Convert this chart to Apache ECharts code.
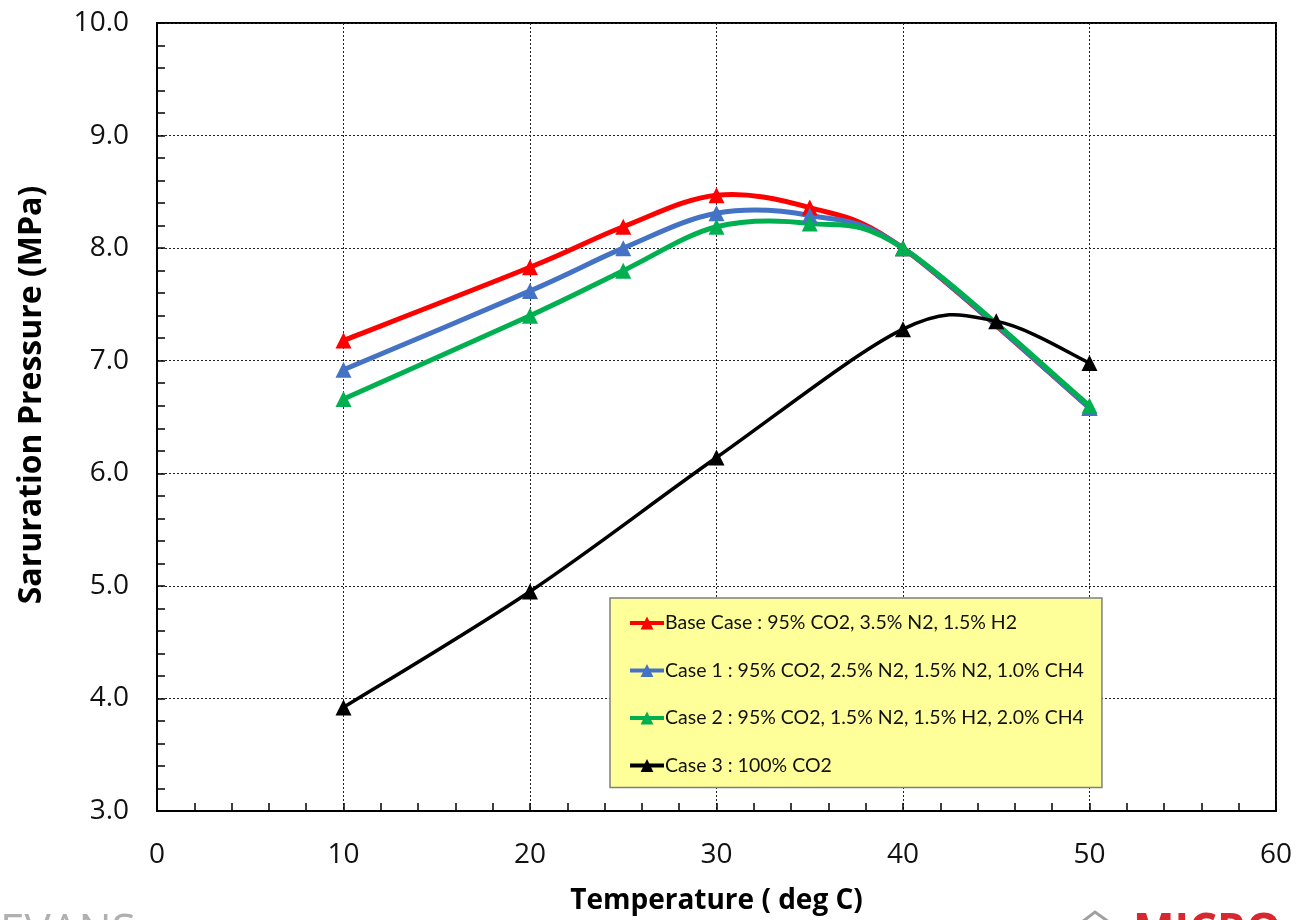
<!DOCTYPE html>
<html>
<head>
<meta charset="utf-8">
<script src="https://cdn.jsdelivr.net/npm/echarts@6/dist/echarts.min.js"></script>
<style>
  html, body { margin: 0; padding: 0; background: #fff; }
  #chart { width: 1298px; height: 920px; }
</style>
</head>
<body>
<div id="chart"></div>
<script>
// Saturation pressure of CO2-rich mixtures versus temperature
const baseTemps = [10, 20, 25, 30, 35, 40, 50];
const baseCase = [7.18, 7.83, 8.19, 8.47, 8.36, 8.00, 6.58];
const case1 = [6.92, 7.62, 8.00, 8.31, 8.29, 8.00, 6.58];
const case2 = [6.66, 7.40, 7.80, 8.19, 8.22, 8.00, 6.60];
const case3Temps = [10, 20, 30, 40, 45, 50];
const case3 = [3.92, 4.95, 6.14, 7.28, 7.35, 6.98];

const seriesNames = [
  'Base Case : 95% CO2, 3.5% N2, 1.5% H2',
  'Case 1 : 95% CO2, 2.5% N2, 1.5% N2, 1.0% CH4',
  'Case 2 : 95% CO2, 1.5% N2, 1.5% H2, 2.0% CH4',
  'Case 3 : 100% CO2'
];
const seriesColors = ['#ff0000', '#4472c4', '#00b050', '#000000'];
const lineWidths = [5, 5, 5, 3.5];

const xTitle = 'Temperature ( deg C)';
const yTitle = 'Saruration Pressure (MPa)';

function pairs(xs, ys) { return xs.map((x, i) => [x, ys[i]]); }

const seriesData = [
  pairs(baseTemps, baseCase),
  pairs(baseTemps, case1),
  pairs(baseTemps, case2),
  pairs(case3Temps, case3)
];

const FONT = '"Open Sans", "Noto Sans", sans-serif';
const LEGEND_FONT = 'Lato, "Open Sans", sans-serif';

// Smoothed curve through the points: each segment is a cubic Bezier whose
// control points follow the Catmull-Rom tangents (1/6 of the neighbour chord).
function curveSeries(k) {
  const pts = seriesData[k];
  return {
    name: seriesNames[k],
    type: 'custom',
    data: pts,
    encode: { x: 0, y: 1 },
    silent: true,
    z: 2 + k,
    renderItem: function (params, api) {
      const i = params.dataIndex;
      if (i >= pts.length - 1) return null;
      const p0 = api.coord(pts[Math.max(i - 1, 0)]);
      const p1 = api.coord(pts[i]);
      const p2 = api.coord(pts[i + 1]);
      const p3 = api.coord(pts[Math.min(i + 2, pts.length - 1)]);
      return {
        type: 'bezierCurve',
        shape: {
          x1: p1[0], y1: p1[1], x2: p2[0], y2: p2[1],
          cpx1: p1[0] + (p2[0] - p0[0]) / 6, cpy1: p1[1] + (p2[1] - p0[1]) / 6,
          cpx2: p2[0] - (p3[0] - p1[0]) / 6, cpy2: p2[1] - (p3[1] - p1[1]) / 6
        },
        style: { stroke: seriesColors[k], lineWidth: lineWidths[k], fill: null, lineCap: 'round' }
      };
    }
  };
}

// Triangle markers at the data points (also supply the legend entries)
function markerSeries(k) {
  return {
    name: seriesNames[k],
    type: 'line',
    data: seriesData[k],
    symbol: 'triangle',
    symbolSize: 16,
    showAllSymbol: true,
    itemStyle: { color: seriesColors[k] },
    lineStyle: { color: seriesColors[k], width: lineWidths[k], opacity: 0 },
    z: 10 + k
  };
}

const chart = echarts.init(document.getElementById('chart'), null, { renderer: 'canvas' });

const gridDash = { show: true, lineStyle: { color: '#222', type: [2, 2], width: 1 } };

chart.setOption({
  animation: false,
  backgroundColor: '#ffffff',
  grid: {
    left: 157, right: 22, top: 23, bottom: 109,
    show: true, borderColor: '#000', borderWidth: 2, backgroundColor: 'transparent'
  },
  xAxis: {
    type: 'value', min: 0, max: 60, interval: 10,
    name: xTitle, nameLocation: 'middle', nameGap: 76,
    nameTextStyle: { fontFamily: FONT, fontWeight: 'bold', fontSize: 28, color: '#000' },
    axisLine: { show: true, onZero: false, lineStyle: { color: '#000', width: 2 } },
    axisTick: { show: true, inside: true, length: 8, lineStyle: { color: '#000', width: 1.5 } },
    minorTick: { show: true, splitNumber: 5, length: 8, lineStyle: { color: '#000', width: 1.5 } },
    axisLabel: { fontFamily: FONT, fontSize: 28, color: '#111', margin: 30 },
    splitLine: gridDash
  },
  yAxis: {
    type: 'value', min: 3, max: 10, interval: 1,
    name: yTitle, nameLocation: 'middle', nameGap: 109,
    nameTextStyle: { fontFamily: FONT, fontWeight: 'bold', fontSize: 32, color: '#000', padding: [0, 0, 0, 44] },
    axisLine: { show: true, onZero: false, lineStyle: { color: '#000', width: 2 } },
    axisTick: { show: true, inside: true, length: 8, lineStyle: { color: '#000', width: 1.5 } },
    minorTick: { show: true, splitNumber: 5, length: 8, lineStyle: { color: '#000', width: 1.5 } },
    axisLabel: { fontFamily: FONT, fontSize: 28, color: '#111', margin: 28, formatter: v => v.toFixed(1) },
    splitLine: gridDash
  },
  legend: {
    orient: 'vertical',
    left: 610, top: 598,
    backgroundColor: '#ffff99',
    borderColor: '#7f7f7f', borderWidth: 1.5,
    padding: [15, 18, 12, 18],
    itemGap: 27.5,
    itemWidth: 34, itemHeight: 16,
    lineStyle: { width: 4, opacity: 1 },
    textStyle: { fontFamily: LEGEND_FONT, fontSize: 19.5, color: '#111', padding: [0, 0, 0, -4] },
    data: seriesNames
  },
  graphic: [
    { type: 'text', left: 0, top: 910, style: { text: 'EVANS', fontFamily: FONT, fontSize: 44, fill: '#b0b0b0' } },
    { type: 'text', left: 1133, top: 910, style: { text: 'MICRO', fontFamily: FONT, fontSize: 44, fill: '#d8282f', fontWeight: 'bold' } },
    { type: 'polygon', shape: { points: [[1078, 925], [1095, 912], [1113, 925]] }, style: { fill: 'none', stroke: '#a0a0a0', lineWidth: 3 } }
  ],
  series: [0, 1, 2, 3].map(markerSeries).concat([0, 1, 2, 3].map(curveSeries))
});
</script>
</body>
</html>
